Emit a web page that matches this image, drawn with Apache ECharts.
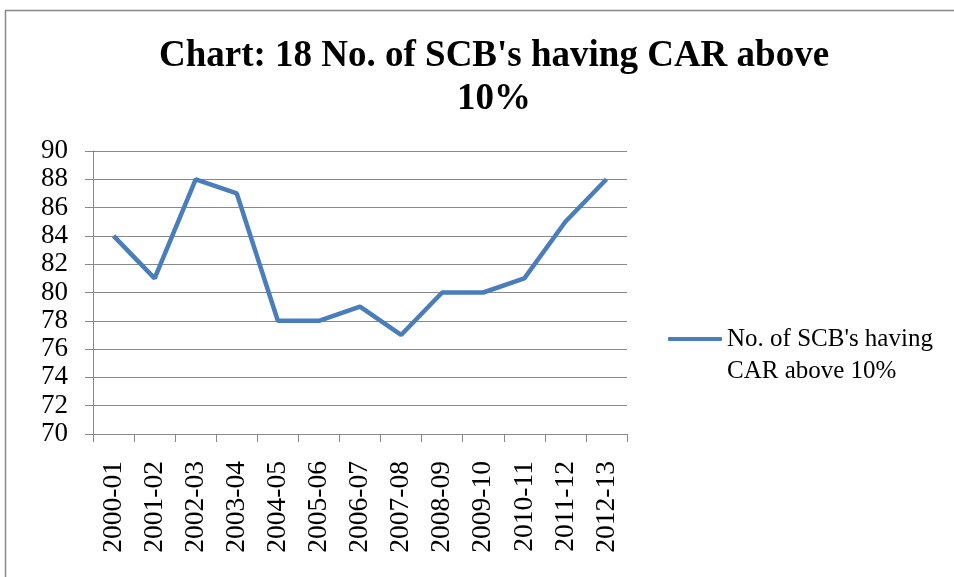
<!DOCTYPE html>
<html><head><meta charset="utf-8">
<script src="https://cdn.jsdelivr.net/npm/echarts@6/dist/echarts.min.js"></script>
<style>html,body{margin:0;padding:0;background:#fff}#c{width:954px;height:577px}</style>
</head><body><div id="c"></div>
<script>
const categories = ['2000-01','2001-02','2002-03','2003-04','2004-05','2005-06','2006-07','2007-08','2008-09','2009-10','2010-11','2011-12','2012-13'];
const values = [84, 81, 88, 87, 78, 78, 79, 77, 80, 80, 81, 85, 88];
const seriesName = "No. of SCB's having CAR above 10%";
const titleText = "Chart: 18 No. of SCB's having CAR above\n10%";

const chart = echarts.init(document.getElementById('c'));
const serif = '"Liberation Serif", "DejaVu Serif", serif';
chart.setOption({
  animation: false,
  backgroundColor: '#fff',
  graphic: [{
    type: 'rect', shape: {x: 5.5, y: 10.5, width: 960, height: 580},
    style: {fill: 'none', stroke: '#888', lineWidth: 1.5}, silent: true
  }],
  title: {
    text: titleText, left: 489, top: 30, textAlign: 'center',
    textStyle: {fontFamily: serif, fontWeight: 'bold', fontSize: 37, lineHeight: 43, color: '#000'}
  },
  legend: {
    left: 668, top: 291, orient: 'vertical', padding: 0,
    icon: 'roundRect', itemWidth: 54, itemHeight: 4, itemGap: 5,
    formatter: () => "\nNo. of SCB's having\nCAR above 10%",
    textStyle: {fontFamily: serif, fontSize: 25, lineHeight: 32, color: '#000'}
  },
  grid: {left: 93, right: 327, top: 151, bottom: 143},
  xAxis: {
    type: 'category', data: categories, boundaryGap: true,
    axisLine: {lineStyle: {color: '#888', width: 1}},
    axisTick: {show: true, length: 8, lineStyle: {color: '#888'}},
    axisLabel: {rotate: 90, margin: 27, fontFamily: serif, fontSize: 27.5, color: '#000', interval: 0}
  },
  yAxis: {
    type: 'value', min: 70, max: 90, interval: 2,
    axisLine: {show: true, lineStyle: {color: '#888', width: 1}},
    axisTick: {show: true, length: 8, lineStyle: {color: '#888'}},
    splitLine: {lineStyle: {color: '#888', width: 1}},
    axisLabel: {margin: 25, fontFamily: serif, fontSize: 27, color: '#000'}
  },
  series: [{
    name: seriesName, type: 'line', data: values,
    symbol: 'none', lineStyle: {color: '#4A7EBB', width: 4.5}, itemStyle: {color: '#4A7EBB'}
  }]
});
</script></body></html>
